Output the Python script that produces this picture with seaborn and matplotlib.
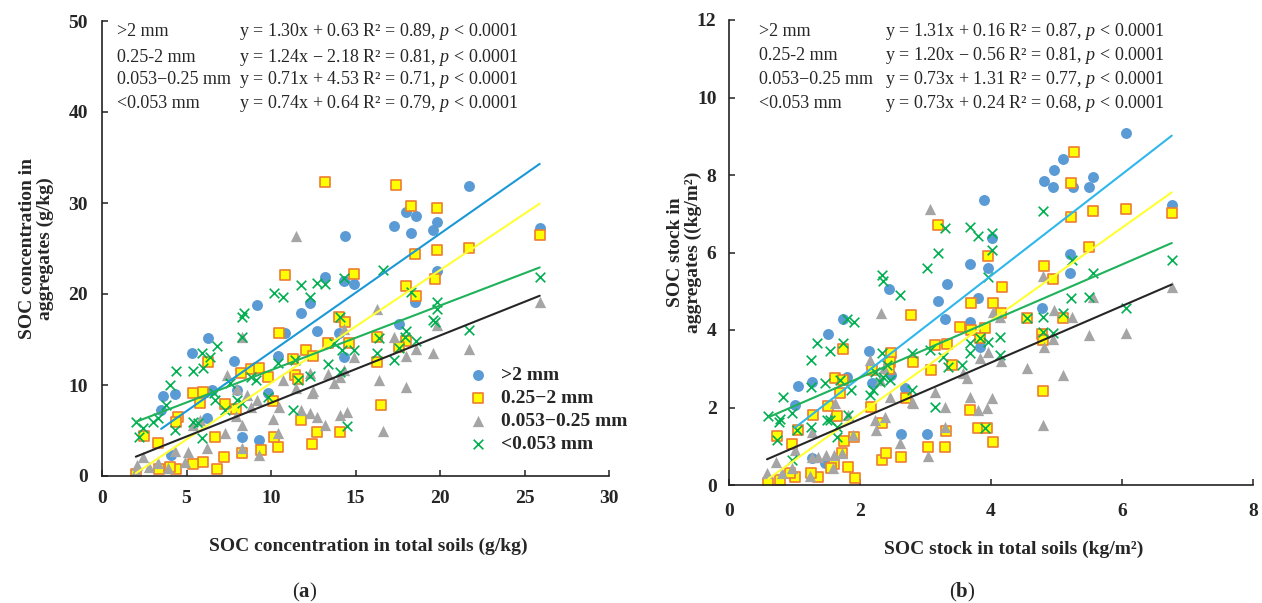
import matplotlib
matplotlib.use("Agg")
import matplotlib.pyplot as plt
import seaborn as sns
import pandas as pd

sns.set_style("ticks")
plt.rcParams['font.family'] = ['Liberation Serif', 'DejaVu Serif']
plt.rcParams['mathtext.fontset'] = 'custom'
plt.rcParams['mathtext.rm'] = 'Liberation Serif'
plt.rcParams['mathtext.it'] = 'Liberation Serif:italic'
plt.rcParams['mathtext.bf'] = 'Liberation Serif:bold'

# ---------------- data: panel (a) SOC concentration (g/kg) ----------------
a_gt2_x = [14.4, 13.2, 14.3, 14.9, 9.2, 11.8, 12.3, 6.3, 5.3, 7.8, 12.7, 14.0, 10.4, 10.8, 3.6, 4.3, 3.5, 6.5,
           6.2, 8.3, 9.3, 9.8, 14.3, 4.1, 21.7, 18.0, 18.6, 17.3, 18.3, 19.6, 19.8, 25.9, 19.8, 18.5, 17.6, 8.0]
a_gt2_y = [26.4, 21.9, 21.4, 21.1, 18.8, 17.9, 19.0, 15.2, 13.5, 12.6, 15.9, 15.7, 13.2, 15.7, 8.8, 9.0, 7.3, 9.4,
           6.4, 4.3, 4.0, 9.1, 13.1, 2.3, 31.9, 29.0, 28.6, 27.5, 26.7, 27.0, 27.9, 27.3, 22.5, 19.1, 16.7, 9.4]

a_mid_x = [13.2, 10.8, 14.9, 17.4, 18.3, 19.8, 18.5, 19.8, 21.7, 25.9, 18.0, 18.6, 19.7, 18.0, 16.5, 14.0, 14.4,
           13.4, 16.3, 12.1, 12.5, 11.3, 16.3, 11.4, 11.6, 14.6, 11.8, 12.7, 14.1, 12.4, 17.6, 10.5, 6.3, 5.4,
           6.0, 5.8, 8.2, 8.8, 9.3, 9.8, 7.3, 7.9, 4.5, 4.4, 2.5, 3.3, 6.7, 7.2, 6.0, 5.4, 4.4, 4.0, 3.4, 6.8,
           2.0, 8.3, 9.4, 10.4, 10.2, 10.1]
a_mid_y = [32.3, 22.1, 22.2, 32.0, 29.7, 29.4, 24.4, 24.8, 25.1, 26.5, 20.9, 19.8, 21.6, 14.8, 7.8, 17.5, 16.9,
           14.6, 15.3, 13.8, 13.2, 12.9, 12.5, 11.1, 10.7, 14.6, 6.2, 4.8, 4.8, 3.5, 14.2, 15.7, 12.5, 9.1,
           9.2, 8.0, 11.3, 11.8, 11.9, 10.9, 7.9, 7.4, 6.5, 5.9, 4.4, 3.6, 4.3, 2.1, 1.5, 1.3, 0.8, 1.0, 0.8, 0.8,
           0.2, 2.5, 2.9, 3.2, 4.3, 8.2]

a_sm_x = [11.5, 25.9, 19.8, 21.7, 19.6, 18.6, 18.0, 17.3, 18.0, 16.6, 16.4, 16.3, 14.9, 14.3, 13.4, 14.1, 13.7,
          12.4, 12.3, 11.8, 12.3, 12.7, 13.2, 14.1, 14.5, 8.3, 7.4, 8.0, 8.6, 9.2, 10.5, 10.7, 10.1, 10.4, 7.3,
          7.9, 8.3, 6.2, 5.8, 5.4, 5.1, 4.9, 4.3, 2.4, 2.1, 2.8, 3.3, 9.3, 8.3, 8.8, 14.3, 11.5, 12.5, 3.9, 2.0]
a_sm_y = [26.4, 19.1, 16.6, 14.0, 13.5, 14.0, 13.2, 15.3, 9.8, 5.0, 10.6, 18.4, 13.1, 16.2, 11.2, 10.9, 10.2,
          9.1, 11.3, 7.3, 6.9, 6.5, 5.6, 6.7, 7.0, 15.3, 11.1, 9.6, 8.9, 8.3, 7.6, 10.5, 6.3, 4.7, 4.7,
          6.6, 5.6, 3.1, 6.2, 5.6, 2.6, 1.5, 2.7, 2.1, 1.2, 1.0, 1.4, 2.3, 3.1, 7.6, 11.6, 9.7, 9.3, 0.9, 0.5]

a_lt_x = [16.6, 11.8, 12.7, 13.2, 14.3, 10.2, 10.7, 12.3, 8.4, 8.3, 18.3, 19.8, 19.8, 19.6, 25.9, 21.7, 18.0,
          17.9, 18.6, 17.3, 16.4, 14.1, 19.7, 14.9, 14.2, 13.7, 11.4, 16.3, 17.6, 13.4, 14.1, 11.6, 12.3, 11.3,
          14.5, 8.3, 6.8, 5.9, 6.4, 4.4, 5.4, 6.0, 4.0, 3.8, 2.0, 2.4, 3.0, 3.3, 4.3, 5.4, 5.7, 5.9, 6.7, 7.3,
          8.0, 8.3, 8.8, 9.8, 7.6, 6.6, 9.1, 10.4, 2.2]
a_lt_y = [22.6, 21.0, 21.2, 21.1, 21.8, 20.1, 19.7, 19.7, 17.9, 17.5, 20.2, 19.1, 18.4, 17.1, 21.9, 16.0, 15.9,
          15.3, 14.8, 12.8, 15.2, 17.5, 16.9, 13.8, 13.8, 14.6, 12.7, 13.5, 14.1, 12.3, 11.4, 10.6, 11.0, 7.3,
          5.5, 15.3, 14.3, 13.5, 13.1, 11.5, 11.5, 11.9, 10.0, 7.8, 5.9, 5.3, 5.9, 6.4, 5.1, 5.9, 5.8, 4.2, 8.4, 7.3,
          8.4, 8.0, 10.9, 8.7, 10.2, 9.1, 10.5, 12.4, 4.3]

# ---------------- data: panel (b) SOC stock (kg/m2) ----------------
b_gt2_x = [6.06, 5.10, 4.96, 4.81, 4.95, 5.25, 5.50, 5.55, 6.76, 3.89, 5.21, 5.21, 3.95, 3.68, 3.33, 3.19, 3.80,
           3.30, 3.68, 4.78, 3.83, 4.02, 2.44, 1.74, 1.51, 2.14, 1.05, 1.27, 1.01, 1.80, 2.18, 2.47, 1.62, 2.63,
           3.02, 1.27, 1.47, 2.69]
b_gt2_y = [9.08, 8.41, 8.13, 7.85, 7.69, 7.69, 7.69, 7.95, 7.23, 7.35, 5.96, 5.47, 5.60, 5.70, 5.19, 4.75, 4.83,
           4.28, 4.21, 4.57, 3.56, 6.37, 5.06, 4.28, 3.90, 3.46, 2.56, 2.66, 2.06, 2.79, 2.63, 2.84, 1.78, 1.32,
           1.32, 0.70, 0.57, 2.50]

b_mid_x = [5.27, 5.22, 5.56, 6.06, 6.76, 5.22, 5.50, 3.19, 3.95, 4.81, 4.95, 4.17, 3.69, 4.03, 4.15, 4.55, 5.10,
           3.53, 3.69, 3.91, 3.83, 4.78, 4.80, 3.15, 3.33, 3.40, 3.08, 3.68, 4.80, 3.31, 3.80, 3.94, 4.03, 3.30,
           2.78, 1.74, 2.47, 2.46, 2.18, 2.44, 2.81, 1.62, 1.74, 1.69, 1.28, 1.51, 1.65, 2.17, 2.34, 2.70, 0.73,
           1.05, 0.96, 1.76, 1.91, 2.34, 2.40, 2.63, 3.04, 1.60, 1.82, 1.92, 1.36, 1.25, 1.56, 1.01, 0.93, 0.78,
           0.60, 1.73]
b_mid_y = [8.59, 7.79, 7.07, 7.12, 7.02, 6.92, 6.14, 6.71, 5.91, 5.65, 5.32, 5.11, 4.70, 4.70, 4.44, 4.31, 4.31,
           4.08, 4.00, 4.05, 3.79, 3.90, 3.74, 3.61, 3.64, 3.10, 2.97, 1.94, 2.43, 1.39, 1.47, 1.47, 1.11, 0.98,
           4.39, 3.51, 3.41, 3.17, 2.97, 2.99, 3.17, 2.76, 2.71, 2.37, 1.81, 2.04, 1.78, 2.01, 1.60, 2.24, 1.26,
           1.42, 1.06, 1.14, 1.24, 0.65, 0.83, 0.72, 0.98, 0.54, 0.46, 0.18, 0.21, 0.31, 0.44, 0.21, 0.31, 0.13,
           0.05, 0.83]

b_sm_x = [6.76, 6.06, 5.50, 5.56, 5.24, 4.96, 4.79, 5.10, 4.55, 4.81, 4.95, 4.80, 4.15, 4.14, 4.03, 3.95, 3.83,
          3.63, 3.68, 3.30, 3.94, 4.02, 3.80, 3.30, 3.15, 3.07, 3.57, 2.32, 2.15, 2.37, 2.31, 2.46, 2.38, 2.24,
          2.61, 2.81, 3.04, 1.62, 1.82, 1.89, 1.73, 1.60, 1.48, 1.36, 1.27, 1.59, 1.24, 0.96, 1.01, 0.72, 0.81,
          0.58, 1.27, 2.23, 2.79]
b_sm_y = [5.11, 3.92, 3.87, 4.85, 4.34, 4.52, 5.39, 2.84, 3.02, 3.56, 3.77, 1.55, 3.20, 4.34, 4.47, 3.43, 3.28,
          2.76, 2.27, 2.01, 1.99, 2.24, 1.94, 1.50, 2.40, 7.12, 2.89, 4.44, 3.22, 3.02, 2.71, 2.27, 1.75, 1.42,
          1.08, 2.12, 0.75, 2.12, 1.81, 1.29, 0.83, 0.77, 0.77, 0.72, 0.72, 0.44, 0.23, 0.44, 0.90, 0.59, 0.31,
          0.31, 1.37, 1.68, 2.14]

b_lt_x = [3.30, 3.19, 3.02, 2.34, 2.35, 2.61, 4.80, 3.68, 3.80, 4.02, 4.02, 3.95, 5.24, 5.56, 6.76, 6.06, 5.22,
          5.50, 4.55, 4.80, 5.10, 4.80, 4.95, 4.14, 3.95, 3.83, 3.68, 3.68, 4.14, 3.34, 3.56, 3.27, 3.15, 3.91,
          1.80, 1.91, 1.34, 1.54, 1.25, 1.74, 1.25, 1.47, 1.69, 1.87, 0.82, 0.96, 0.78, 0.60, 0.76, 0.73, 1.04,
          1.25, 1.54, 1.65, 1.65, 2.15, 2.20, 2.31, 2.35, 2.46, 2.79, 2.79, 3.07, 2.34, 2.23, 2.41, 0.96, 1.50,
          1.82]
b_lt_y = [6.63, 5.99, 5.60, 5.42, 5.26, 4.90, 7.07, 6.66, 6.43, 6.50, 6.06, 5.37, 5.81, 5.47, 5.81, 4.57, 4.83,
          4.85, 4.31, 4.34, 4.44, 3.95, 3.92, 3.82, 3.69, 3.79, 3.66, 3.41, 3.35, 3.05, 3.10, 3.30, 2.01, 1.47,
          4.28, 4.21, 3.66, 3.46, 3.22, 3.66, 2.53, 2.63, 2.71, 2.45, 2.27, 1.86, 1.70, 1.78, 1.63, 1.16, 1.42,
          1.50, 1.68, 1.50, 1.24, 2.32, 2.45, 2.66, 2.79, 2.71, 2.45, 3.41, 3.48, 3.41, 2.92, 3.10, 0.65, 1.68,
          1.81]

legend_labels = [">2 mm", "0.25\u22122 mm", "0.053\u22120.25 mm", "<0.053 mm"]
eq_names = [">2 mm", "0.25-2 mm", "0.053\u22120.25 mm", "<0.053 mm"]

# equations as printed (text order)
a_slope = [1.30, 1.24, 0.71, 0.74]
a_icpt = [0.63, -2.18, 4.53, 0.64]
a_r2 = [0.89, 0.81, 0.71, 0.79]
b_slope = [1.31, 1.20, 0.73, 0.73]
b_icpt = [0.16, -0.56, 1.31, 0.24]
b_r2 = [0.87, 0.81, 0.77, 0.68]
# which printed equation each series' trend line follows (circles, squares, triangles, crosses)
line_eq_index = [0, 1, 3, 2]

marker_styles = [
    dict(marker='o', color='#5B9BD5', s=62, linewidth=0),
    dict(marker='s', color='#FFFF00', edgecolor='#ED7D31', s=62, linewidth=1.2),
    dict(marker='^', color='#A5A5A5', s=66, linewidth=0),
    dict(marker='x', color='#00B050', s=48, linewidth=1.2),
]

fig = plt.figure(figsize=(12.62, 6.03), dpi=100)
W, H = 1262, 603
ax_a = fig.add_axes([102 / W, 1 - 476 / H, 507 / W, 455 / H])
ax_b = fig.add_axes([729 / W, 1 - 485 / H, 524 / W, 465 / H])


def fmt_eq(s, i, r2):
    sign = '+' if i >= 0 else '\u2212'
    return f"y = {s:.2f}x {sign} {abs(i):.2f} R\u00b2 = {r2:.2f}, $p$ < 0.0001"


def draw_panel(ax, series, slopes, icpts, line_colors, xmax, ymax, xstep, ystep, with_legend):
    for k, ((xs, ys), st) in enumerate(zip(series, marker_styles)):
        df = pd.DataFrame({'x': xs, 'y': ys})
        sns.scatterplot(data=df, x='x', y='y', ax=ax, label=legend_labels[k], zorder=2 + k * 0.1, **st)
    for k, (xs, ys) in enumerate(series):
        j = line_eq_index[k]
        lx = [min(xs), max(xs)]
        ly = [slopes[j] * v + icpts[j] for v in lx]
        sns.lineplot(x=lx, y=ly, ax=ax, color=line_colors[k], linewidth=1.5, legend=False, zorder=5)
    ax.set_xlim(0, xmax)
    ax.set_ylim(0, ymax)
    ax.set_xticks(range(0, xmax + 1, xstep))
    ax.set_yticks(range(0, ymax + 1, ystep))
    sns.despine(ax=ax)
    ax.spines['left'].set_linewidth(1.2)
    ax.spines['bottom'].set_linewidth(1.2)
    ax.spines['left'].set_color('#222222')
    ax.spines['bottom'].set_color('#222222')
    for lbl in ax.get_xticklabels() + ax.get_yticklabels():
        lbl.set_fontweight('bold')
        lbl.set_fontsize(14)
    leg = ax.get_legend()
    if leg is not None:
        leg.remove()
    if with_legend:
        ax.legend(loc='upper left', bbox_to_anchor=((466 - 102) / 507, (476 - 366) / 455), frameon=False,
                  borderaxespad=0, borderpad=0, labelspacing=0.28, handletextpad=0.6, handlelength=1.2,
                  prop={'family': 'Liberation Serif', 'weight': 'bold', 'size': 14})


series_a = [(a_gt2_x, a_gt2_y), (a_mid_x, a_mid_y), (a_sm_x, a_sm_y), (a_lt_x, a_lt_y)]
series_b = [(b_gt2_x, b_gt2_y), (b_mid_x, b_mid_y), (b_sm_x, b_sm_y), (b_lt_x, b_lt_y)]

draw_panel(ax_a, series_a, a_slope, a_icpt, ['#1B98D6', '#FFFF33', '#262626', '#1FB25A'], 30, 50, 5, 10, True)
draw_panel(ax_b, series_b, b_slope, b_icpt, ['#2FB7EC', '#FFFF33', '#262626', '#1FB25A'], 8, 12, 2, 2, False)

ax_a.tick_params(axis='both', direction='in', length=4, width=1.1, color='#222222')
ax_a.tick_params(axis='x', pad=10)
ax_a.tick_params(axis='y', pad=10)
ax_b.tick_params(axis='both', direction='in', length=4, width=1.1, color='#222222')
ax_b.tick_params(axis='x', pad=13)
ax_b.tick_params(axis='y', pad=9)

ax_a.set_xlabel("SOC concentration in total soils (g/kg)", fontsize=14, fontweight='bold')
ax_a.set_ylabel("SOC concentration in\naggregates (g/kg)", fontsize=14, fontweight='bold', linespacing=1.05)
ax_b.set_xlabel("SOC stock in total soils (kg/m\u00b2)", fontsize=14, fontweight='bold')
ax_b.set_ylabel("SOC stock in\naggregates ((kg/m\u00b2)", fontsize=14, fontweight='bold', linespacing=1.05)
ax_a.xaxis.set_label_coords((368 - 102) / 507, (476 - 538) / 455)
ax_a.yaxis.set_label_coords((54 - 102) / 507, 0.5)
ax_b.xaxis.set_label_coords((1014 - 729) / 524, (485 - 541) / 465)
ax_b.yaxis.set_label_coords((702 - 729) / 524, 0.5)

# equation blocks
rows_a = [32, 57, 80, 104]
rows_b = [32, 55, 79, 103]
for k in range(4):
    fig.text(117 / W, 1 - rows_a[k] / H, eq_names[k], fontsize=13, va='center', ha='left')
    fig.text(239 / W, 1 - rows_a[k] / H, fmt_eq(a_slope[k], a_icpt[k], a_r2[k]), fontsize=13, va='center', ha='left')
    fig.text(759 / W, 1 - rows_b[k] / H, eq_names[k], fontsize=13, va='center', ha='left')
    fig.text(885 / W, 1 - rows_b[k] / H, fmt_eq(b_slope[k], b_icpt[k], b_r2[k]), fontsize=13, va='center', ha='left')

fig.text(305 / W, 1 - 592 / H, r"($\mathbf{a}$)", fontsize=15, ha='center', va='center')
fig.text(962 / W, 1 - 592 / H, r"($\mathbf{b}$)", fontsize=15, ha='center', va='center')

fig.savefig("out.png", dpi=100, facecolor='white')
